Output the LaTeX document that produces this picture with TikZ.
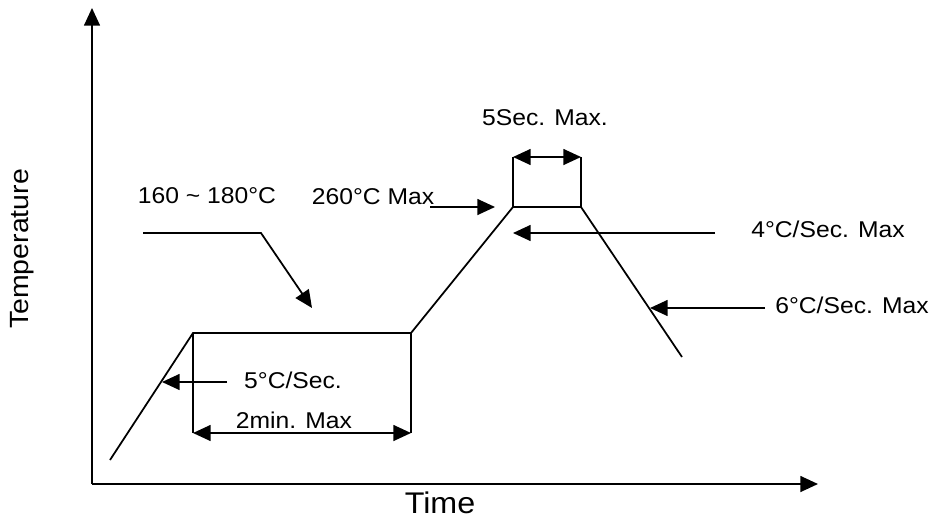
\documentclass[tikz,border=0pt]{standalone}
\usepackage{fontspec}
\setmainfont{Liberation Sans}[FakeStretch=1.08]
\usetikzlibrary{arrows.meta,positioning}

\begin{document}
\begin{tikzpicture}[
    x=0.02cm, y=-0.02cm,
    line/.style={line width=1pt},
    arrow/.style={line width=1pt, -{Triangle[length=10pt,width=9pt]}},
    dimline/.style={line width=1pt, {Triangle[length=10pt,width=9pt]}-{Triangle[length=10pt,width=9pt]}},
    lbl/.style={font=\fontsize{13}{15}\selectfont, inner sep=0pt},
    axislbl/.style={font=\fontsize{15}{17}\selectfont, inner sep=0pt}
]
\useasboundingbox (0,0) rectangle (930,521);

% Axes
\coordinate (origin) at (92,484);
\coordinate (ytop) at (92,8);
\coordinate (xend) at (818,484);
\draw[arrow] (origin) -- (ytop);
\draw[arrow] (origin) -- (xend);
\node[axislbl, rotate=90] (temp) at (22,249) {Temperature};
\node[axislbl, font=\fontsize{17}{19}\selectfont] (time) at (440,503) {Time};

% Profile
\coordinate (p0) at (110,460);
\coordinate (p1) at (193,333);
\coordinate (p2) at (411,333);
\coordinate (p3) at (513,207);
\coordinate (p4) at (581,207);
\coordinate (p5) at (682,357);
\draw[line] (p0) -- (p1) -- (p2) -- (p3) -- (p4) -- (p5);

% Soak time
\coordinate (s1) at (193,433);
\coordinate (s2) at (411,433);
\draw[line] (p1) -- (s1);
\draw[line] (p2) -- (s2);
\draw[dimline] (s1) -- (s2);

% Peak time
\coordinate (k1) at (513,157);
\coordinate (k2) at (581,157);
\draw[line] (p3) -- (k1);
\draw[line] (p4) -- (k2);
\draw[dimline] (k1) -- (k2);

% Labels
\node[lbl] (soak) at (207,196) {160 \textasciitilde{} 180°C};
\node[lbl] (peak) at (373,197) {260°C Max};
\node[lbl] (peaktime) at (545,118) {5Sec. Max.};
\node[lbl] (rise) at (828,229) {4°C/Sec. Max};
\node[lbl] (cool) at (852,305) {6°C/Sec. Max};
\node[lbl] (ramp) at (293,380) {5°C/Sec.};
\node[lbl] (soaktime) at (294,420) {2min. Max};

% Pointers
\coordinate (soakA) at (143,233);
\coordinate (soakB) at (261,233);
\coordinate (soakC) at (312,308);
\draw[arrow] (soakA) -- (soakB) -- (soakC);
\coordinate (peakA) at (430,207);
\coordinate (peakB) at (495,207);
\draw[arrow] (peakA) -- (peakB);
\coordinate (riseA) at (715,233);
\coordinate (riseB) at (513,233);
\draw[arrow] (riseA) -- (riseB);
\coordinate (coolA) at (765,308);
\coordinate (coolB) at (650,308);
\draw[arrow] (coolA) -- (coolB);
\coordinate (rampA) at (227,382);
\coordinate (rampB) at (162,382);
\draw[arrow] (rampA) -- (rampB);

\end{tikzpicture}
\end{document}
